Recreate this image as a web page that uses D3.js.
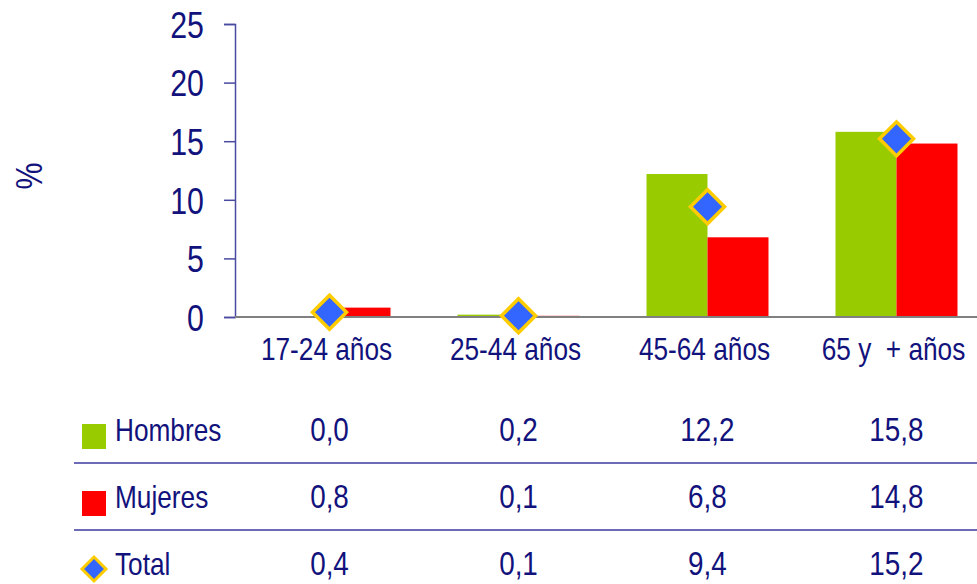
<!DOCTYPE html>
<html>
<head>
    <meta charset="utf-8">
    <script src="https://cdn.jsdelivr.net/npm/d3@7/dist/d3.min.js"></script>
    <style>
        body { margin: 0; background: #fff; }
        text { font-family: "Liberation Sans", Arial, sans-serif; fill: #12127c; }
    </style>
</head>
<body>
    <svg width="977" height="584" id="mainsvg"></svg>
    <script>
        // datos
        const categories = ['17-24 años', '25-44 años', '45-64 años', '65 y  + años'];
        const hombres = [0.0, 0.2, 12.2, 15.8];
        const mujeres = [0.8, 0.1, 6.8, 14.8];
        const total = [0.4, 0.1, 9.4, 15.2];
        const yTicks = [0, 5, 10, 15, 20, 25];
        const seriesNames = ['Hombres', 'Mujeres', 'Total'];

        const svg = d3.select('svg');
        const green = '#99cc00', red = '#ff0000', blue = '#3366ff', gold = '#ffcc00';
        const K = 0.82; // estrecha la letra como Arial Narrow

        // comprime horizontalmente cada texto alrededor de su propia x
        function narrow(sel) {
            sel.each(function () {
                const t = d3.select(this);
                const x0 = +t.attr('x') || 0;
                const prev = t.attr('transform') || '';
                t.attr('transform', `${prev} translate(${x0 * (1 - K)},0) scale(${K},1)`);
            });
        }

        const x = d3.scaleBand().domain(categories).range([235, 991])
            .paddingInner(0.3545).paddingOuter(0.1773);
        const xs = d3.scaleBand().domain(['h', 'm']).range([0, x.bandwidth()]);
        const y = d3.scaleLinear().domain([0, 25]).range([317, 24]);

        // eje y
        const yAxis = svg.append('g').attr('transform', 'translate(235,0)')
            .call(d3.axisLeft(y).tickValues(yTicks).tickSize(11).tickPadding(20));
        yAxis.attr('font-family', null);
        yAxis.select('.domain').attr('stroke', '#4a4aa0').attr('stroke-width', 1.5);
        yAxis.selectAll('.tick line').attr('stroke', '#4a4aa0').attr('stroke-width', 1.5);
        yAxis.selectAll('.tick text').attr('font-size', 37).attr('dy', '0.36em').call(narrow);

        svg.append('text').attr('transform', 'translate(42,176) rotate(-90)')
            .attr('text-anchor', 'middle').attr('font-size', 37).text('%').call(narrow);

        // barras
        const cg = svg.append('g').selectAll('g').data(categories).join('g')
            .attr('transform', d => `translate(${x(d)},0)`);
        cg.append('rect').attr('x', xs('h')).attr('width', xs.bandwidth())
            .attr('y', (d, i) => y(hombres[i])).attr('height', (d, i) => y(0) - y(hombres[i]))
            .attr('fill', green);
        cg.append('rect').attr('x', xs('m')).attr('width', xs.bandwidth())
            .attr('y', (d, i) => y(mujeres[i])).attr('height', (d, i) => y(0) - y(mujeres[i]))
            .attr('fill', red);

        // eje x (línea base)
        const xAxis = svg.append('g').attr('transform', 'translate(0,317)')
            .call(d3.axisBottom(x).tickSize(0).tickPadding(20));
        xAxis.attr('font-family', null);
        xAxis.select('.domain').attr('stroke', '#808080').attr('stroke-width', 2)
            .attr('d', 'M235,0H977');
        xAxis.selectAll('.tick text').attr('font-size', 32).attr('dy', '0.71em')
            .attr('x', -3).style('white-space', 'pre').call(narrow);

        // total (rombos)
        const diamond = d3.symbol().type(d3.symbolSquare).size(2 * 17 * 17);
        svg.append('g').selectAll('path').data(categories).join('path')
            .attr('d', diamond)
            .attr('transform', (d, i) => `translate(${x(d) + x.bandwidth() / 2},${y(total[i])}) rotate(45)`)
            .attr('fill', blue).attr('stroke', gold).attr('stroke-width', 3.5);

        // tabla de datos
        const rowBase = [441, 508, 575];
        const rows = [hombres, mujeres, total];
        const fmt = v => d3.format('.1f')(v).replace('.', ',');
        const tbl = svg.append('g');
        tbl.selectAll('line').data([463, 530]).join('line')
            .attr('x1', 74).attr('x2', 977).attr('y1', d => d).attr('y2', d => d)
            .attr('stroke', '#3a3aa0').attr('stroke-width', 1.5);

        rows.forEach((vals, r) => {
            tbl.append('text').attr('x', 115).attr('y', rowBase[r])
                .attr('font-size', 32).text(seriesNames[r]).call(narrow);
            tbl.selectAll(null).data(categories).join('text')
                .attr('x', d => x(d) + x.bandwidth() / 2).attr('y', rowBase[r])
                .attr('text-anchor', 'middle').attr('font-size', 34)
                .text((d, i) => fmt(vals[i])).call(narrow);
        });
        tbl.append('rect').attr('x', 82).attr('y', 424).attr('width', 24).attr('height', 25).attr('fill', green);
        tbl.append('rect').attr('x', 82).attr('y', 491).attr('width', 24).attr('height', 25).attr('fill', red);
        tbl.append('path').attr('d', d3.symbol().type(d3.symbolSquare).size(2 * 12 * 12))
            .attr('transform', 'translate(94,569) rotate(45)')
            .attr('fill', blue).attr('stroke', gold).attr('stroke-width', 3);
    </script>
</body>
</html>
